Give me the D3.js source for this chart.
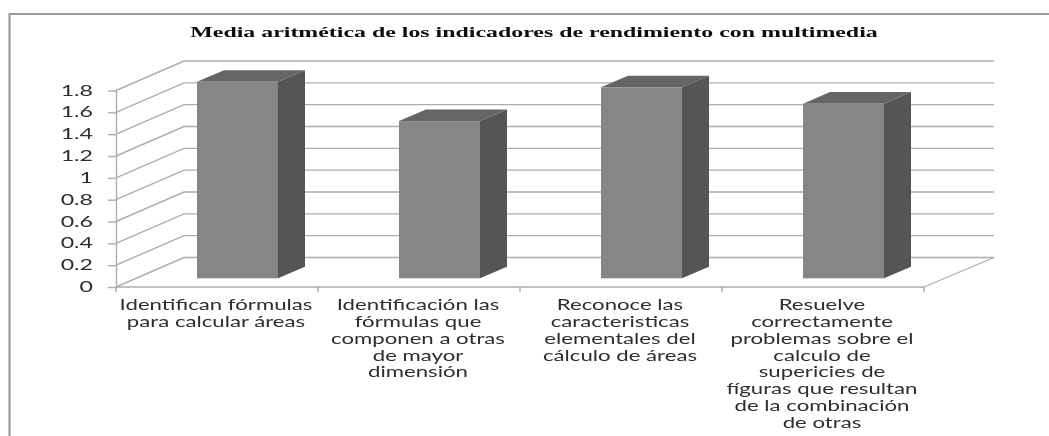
<!DOCTYPE html>
<html><head><meta charset="utf-8">
<script src="https://cdnjs.cloudflare.com/ajax/libs/d3/7.8.5/d3.min.js"></script>
<style>html,body{margin:0;padding:0;background:#fff}svg{display:block}</style></head>
<body><svg id="c" width="1049" height="436"></svg>
<script>
const titleText = "Media aritmética de los indicadores de rendimiento con multimedia";
const categories = ["c1","c2","c3","c4"];
const categoryLabels = [
  ["Identifican fórmulas","para calcular áreas"],
  ["Identificación las","fórmulas que","componen a otras","de mayor","dimensión"],
  ["Reconoce las","caracteristicas","elementales del","cálculo de áreas"],
  ["Resuelve","correctamente","problemas sobre el","calculo de","supericies de","fíguras que resultan","de la combinación","de otras"]
];
const values = [1.8,1.44,1.75,1.6];
const yTicks = [0,0.2,0.4,0.6,0.8,1,1.2,1.4,1.6,1.8];

const svg = d3.select("#c");
const defs = svg.append("defs");
defs.append("filter").attr("id","soft").attr("x","-5%").attr("y","-5%").attr("width","110%").attr("height","110%")
  .append("feGaussianBlur").attr("stdDeviation",0.55);
const root = svg.append("g").attr("filter","url(#soft)");

const x = d3.scaleBand().domain(categories).range([116,924]);
const y = d3.scaleLinear().domain([0,1.8]).range([287,90.5]);
const depth = {dx:68,dy:-29.5};
const barDepth = {dx:27,dy:-11.6};
const barFloor = {dx:20.5,dy:-8.7};
const barW = 81;
const gridCol="#adadad";

// frame
root.append("path").attr("d","M9.5,440V14H1052").attr("fill","none").attr("stroke","#9c9c9c").attr("stroke-width",2.2);

// walls
const grid = root.append("g");
yTicks.forEach(t=>{
  const yy=y(t);
  grid.append("path")
    .attr("d",`M${x.range()[0]},${yy}L${x.range()[0]+depth.dx},${yy+depth.dy}H${x.range()[1]+depth.dx+2}`)
    .attr("fill","none").attr("stroke",gridCol).attr("stroke-width",1.4);
});
grid.append("path").attr("d",`M${x.range()[1]},${y(0)}L${x.range()[1]+depth.dx+2},${y(0)+depth.dy}`)
  .attr("fill","none").attr("stroke",gridCol).attr("stroke-width",1.2);

// y axis
const yAxis = d3.axisLeft(y).tickValues(yTicks).tickFormat(d=>String(d)).tickSize(8).tickSizeOuter(0).tickPadding(0);
const gy = root.append("g").attr("transform",`translate(${x.range()[0]},0)`).call(yAxis);
gy.selectAll("path,line").attr("stroke",gridCol).attr("stroke-width",1.4);
gy.selectAll("text").remove();
const yLabels = root.append("g");
yTicks.forEach(t=>{
  yLabels.append("text").attr("transform",`translate(93,${y(t)+5}) scale(1.6,1)`)
    .attr("text-anchor","end").attr("font-family","Lato").attr("font-size",14.5).attr("fill","#2e2e2e")
    .text(String(t));
});

// x axis
const ticksX = categories.map(c=>x(c)).concat([x.range()[1]]);
root.append("line").attr("x1",x.range()[0]).attr("x2",x.range()[1]).attr("y1",y(0)).attr("y2",y(0)).attr("stroke",gridCol).attr("stroke-width",1.6);
root.selectAll(".xt").data(ticksX).join("line").attr("x1",d=>d).attr("x2",d=>d).attr("y1",y(0)).attr("y2",y(0)+5).attr("stroke","#999").attr("stroke-width",1.2);

// bars
const unit = y(0)-y(1);
const bars = root.selectAll(".bar").data(categories).join("g");
bars.each(function(c,i){
  const g=d3.select(this);
  const x0=x(c)+(x.bandwidth()-barW)/2+barFloor.dx;
  const bot=y(0)+barFloor.dy;
  const top=bot-values[i]*unit;
  const {dx,dy}=barDepth;
  g.append("path").attr("d",`M${x0},${top}L${x0+dx},${top+dy}H${x0+barW+dx}L${x0+barW},${top}Z`).attr("fill","#656565");
  g.append("path").attr("d",`M${x0+barW},${top}L${x0+barW+dx},${top+dy}V${bot+dy}L${x0+barW},${bot}Z`).attr("fill","#555555");
  g.append("rect").attr("x",x0).attr("y",top).attr("width",barW).attr("height",bot-top).attr("fill","#868686");
});

// category labels
categories.forEach((c,i)=>{
  const cx=x(c)+x.bandwidth()/2-1;
  categoryLabels[i].forEach((ln,j)=>{
    root.append("text").attr("transform",`translate(${cx},${310+j*16.85}) scale(1.53,1)`)
      .attr("text-anchor","middle").attr("font-family","Lato").attr("font-size",14.5).attr("fill","#2e2e2e").text(ln);
  });
});

// title
root.append("text").attr("transform","translate(534,37) scale(1.647,1)")
  .attr("text-anchor","middle").attr("font-family","Liberation Serif").attr("font-weight","bold")
  .attr("font-size",14.5).attr("fill","#111").text(titleText);
</script></body></html>
